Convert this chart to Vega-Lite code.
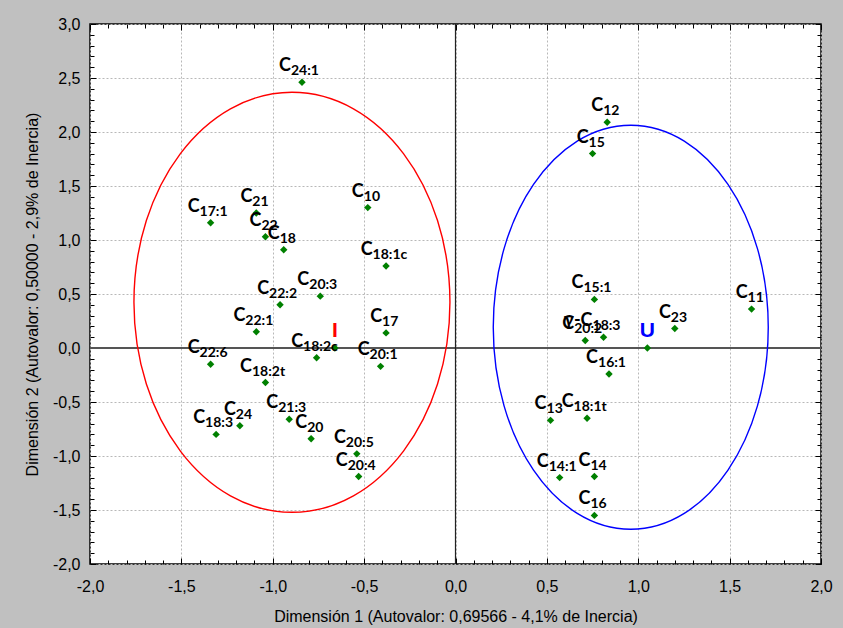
{
  "$schema": "https://vega.github.io/schema/vega-lite/v6.json",
  "width": 731,
  "height": 540,
  "autosize": {"type": "none"},
  "padding": {"left": 90, "top": 24, "right": 22, "bottom": 64},
  "background": "#c0c0c0",
  "config": {"view": {"fill": "white", "stroke": "black", "strokeWidth": 1.5}},
  "datasets": {
    "pts": [
      {"x": -0.84, "y": 2.46, "pre": "C", "sub": "24:1"},
      {"x": -0.48, "y": 1.30, "pre": "C", "sub": "10"},
      {"x": -1.34, "y": 1.16, "pre": "C", "sub": "17:1"},
      {"x": -1.09, "y": 1.25, "pre": "C", "sub": "21"},
      {"x": -1.04, "y": 1.03, "pre": "C", "sub": "22"},
      {"x": -0.94, "y": 0.91, "pre": "C", "sub": "18"},
      {"x": -0.38, "y": 0.76, "pre": "C", "sub": "18:1c"},
      {"x": -0.74, "y": 0.48, "pre": "C", "sub": "20:3"},
      {"x": -0.96, "y": 0.40, "pre": "C", "sub": "22:2"},
      {"x": -1.09, "y": 0.15, "pre": "C", "sub": "22:1"},
      {"x": -0.38, "y": 0.14, "pre": "C", "sub": "17"},
      {"x": -0.76, "y": -0.09, "pre": "C", "sub": "18:2c"},
      {"x": -1.34, "y": -0.15, "pre": "C", "sub": "22:6"},
      {"x": -0.41, "y": -0.17, "pre": "C", "sub": "20:1"},
      {"x": -1.04, "y": -0.32, "pre": "C", "sub": "18:2t"},
      {"x": -0.91, "y": -0.66, "pre": "C", "sub": "21:3"},
      {"x": -1.18, "y": -0.72, "pre": "C", "sub": "24"},
      {"x": -1.31, "y": -0.80, "pre": "C", "sub": "18:3"},
      {"x": -0.79, "y": -0.84, "pre": "C", "sub": "20"},
      {"x": -0.54, "y": -0.98, "pre": "C", "sub": "20:5"},
      {"x": -0.53, "y": -1.19, "pre": "C", "sub": "20:4"},
      {"x": 0.83, "y": 2.09, "pre": "C", "sub": "12"},
      {"x": 0.75, "y": 1.80, "pre": "C", "sub": "15"},
      {"x": 0.76, "y": 0.45, "pre": "C", "sub": "15:1"},
      {"x": 1.62, "y": 0.36, "pre": "C", "sub": "11"},
      {"x": 1.20, "y": 0.18, "pre": "C", "sub": "23"},
      {"x": 0.71, "y": 0.07, "pre": "C", "sub": "20:2"},
      {"x": 0.81, "y": 0.10, "pre": "γ-C", "sub": "18:3"},
      {"x": 0.84, "y": -0.24, "pre": "C", "sub": "16:1"},
      {"x": 0.52, "y": -0.67, "pre": "C", "sub": "13"},
      {"x": 0.72, "y": -0.65, "pre": "C", "sub": "18:1t"},
      {"x": 0.57, "y": -1.20, "pre": "C", "sub": "14:1"},
      {"x": 0.76, "y": -1.19, "pre": "C", "sub": "14"},
      {"x": 0.76, "y": -1.55, "pre": "C", "sub": "16"}
    ],
    "cent": [
      {"x": -0.66, "y": 0.0, "lab": "I"},
      {"x": 1.05, "y": 0.0, "lab": "U"}
    ],
    "ell": [
      {"x": -0.895, "y": 0.423, "g": "I"},
      {"x": 0.959, "y": 0.192, "g": "U"}
    ],
    "zero": [{"v": 0}]
  },
  "layer": [
    {
      "data": {"name": "zero"},
      "mark": {"type": "rule", "color": "#555555", "strokeWidth": 2},
      "encoding": {
        "y": {"field": "v", "type": "quantitative", "scale": {"domain": [-2, 3], "nice": false, "zero": false}, "axis": null}
      }
    },
    {
      "data": {"name": "zero"},
      "mark": {"type": "rule", "color": "#222222", "strokeWidth": 1.2},
      "encoding": {
        "x": {"field": "v", "type": "quantitative", "scale": {"domain": [-2, 2], "nice": false, "zero": false}, "axis": null}
      }
    },
    {
      "data": {"name": "ell"},
      "transform": [{"filter": "datum.g == 'I'"}],
      "mark": {"type": "point", "filled": false, "opacity": 1, "stroke": "#ff0000", "strokeWidth": 1.4, "size": 176400,
        "shape": "M0.7524,0 C0.7524,0.5523 0.4155,1 0,1 C-0.4155,1 -0.7524,0.5523 -0.7524,0 C-0.7524,-0.5523 -0.4155,-1 0,-1 C0.4155,-1 0.7524,-0.5523 0.7524,0 Z"},
      "encoding": {
        "x": {"field": "x", "type": "quantitative", "scale": {"domain": [-2, 2], "nice": false, "zero": false}, "axis": null},
        "y": {"field": "y", "type": "quantitative", "scale": {"domain": [-2, 3], "nice": false, "zero": false}, "axis": null}
      }
    },
    {
      "data": {"name": "ell"},
      "transform": [{"filter": "datum.g == 'U'"}],
      "mark": {"type": "point", "filled": false, "opacity": 1, "stroke": "#0000ff", "strokeWidth": 1.4, "size": 163216,
        "shape": "M0.6807,0 C0.6807,0.5523 0.3759,1 0,1 C-0.3759,1 -0.6807,0.5523 -0.6807,0 C-0.6807,-0.5523 -0.3759,-1 0,-1 C0.3759,-1 0.6807,-0.5523 0.6807,0 Z"},
      "encoding": {
        "x": {"field": "x", "type": "quantitative", "scale": {"domain": [-2, 2], "nice": false, "zero": false}, "axis": null},
        "y": {"field": "y", "type": "quantitative", "scale": {"domain": [-2, 3], "nice": false, "zero": false}, "axis": null}
      }
    },
    {
      "data": {"name": "pts"},
      "mark": {"type": "point", "shape": "diamond", "filled": true, "opacity": 1, "color": "#008000", "size": 55},
      "encoding": {
        "x": {"field": "x", "type": "quantitative", "scale": {"domain": [-2, 2], "nice": false, "zero": false},
          "axis": {
            "orient": "bottom",
            "values": [-2,-1.9,-1.8,-1.7,-1.6,-1.5,-1.4,-1.3,-1.2,-1.1,-1,-0.9,-0.8,-0.7,-0.6,-0.5,-0.4,-0.3,-0.2,-0.1,0,0.1,0.2,0.3,0.4,0.5,0.6,0.7,0.8,0.9,1,1.1,1.2,1.3,1.4,1.5,1.6,1.7,1.8,1.9,2],
            "labelExpr": "abs(datum.value*2-round(datum.value*2))<0.001 ? replace(replace(format(datum.value,'.1f'),'.',','),'\u2212','-') : ''",
            "tickSize": {"condition": {"test": "abs(datum.value*2-round(datum.value*2))<0.001", "value": -6}, "value": -4},
            "tickColor": "black",
            "grid": true,
            "gridOpacity": {"condition": {"test": "abs(datum.value*2-round(datum.value*2))<0.001", "value": 1}, "value": 0},
            "gridDash": [2, 2],
            "gridColor": "#b8b8b8",
            "domain": false,
            "labelFont": "Liberation Sans",
            "labelFontSize": 16,
            "labelColor": "black",
            "labelPadding": 20,
            "labelFlush": false,
            "labelOverlap": false,
            "title": "Dimensión 1 (Autovalor: 0,69566 - 4,1% de Inercia)",
            "titleFont": "Liberation Sans",
            "titleFontSize": 16,
            "titleFontWeight": "normal",
            "titleColor": "black",
            "titlePadding": 12
          }
        },
        "y": {"field": "y", "type": "quantitative", "scale": {"domain": [-2, 3], "nice": false, "zero": false},
          "axis": {
            "orient": "left",
            "values": [-2,-1.9,-1.8,-1.7,-1.6,-1.5,-1.4,-1.3,-1.2,-1.1,-1,-0.9,-0.8,-0.7,-0.6,-0.5,-0.4,-0.3,-0.2,-0.1,0,0.1,0.2,0.3,0.4,0.5,0.6,0.7,0.8,0.9,1,1.1,1.2,1.3,1.4,1.5,1.6,1.7,1.8,1.9,2,2.1,2.2,2.3,2.4,2.5,2.6,2.7,2.8,2.9,3],
            "labelExpr": "abs(datum.value*2-round(datum.value*2))<0.001 ? replace(replace(format(datum.value,'.1f'),'.',','),'\u2212','-') : ''",
            "tickSize": {"condition": {"test": "abs(datum.value*2-round(datum.value*2))<0.001", "value": -6}, "value": -4},
            "tickColor": "black",
            "grid": true,
            "gridOpacity": {"condition": {"test": "abs(datum.value*2-round(datum.value*2))<0.001", "value": 1}, "value": 0},
            "gridDash": [2, 2],
            "gridColor": "#b8b8b8",
            "domain": false,
            "labelFont": "Liberation Sans",
            "labelFontSize": 16,
            "labelColor": "black",
            "labelPadding": 16,
            "labelFlush": false,
            "labelOverlap": false,
            "title": "Dimensión 2 (Autovalor: 0,50000 - 2,9% de Inercia)",
            "titleFont": "Liberation Sans",
            "titleFontSize": 16,
            "titleFontWeight": "normal",
            "titleColor": "black",
            "titlePadding": 12
          }
        }
      }
    },
    {
      "data": {"name": "pts"},
      "mark": {"type": "point", "opacity": 0},
      "encoding": {
        "x": {"field": "x", "type": "quantitative", "scale": {"domain": [-2, 2], "nice": false, "zero": false},
          "axis": {
            "orient": "top",
            "values": [-2,-1.9,-1.8,-1.7,-1.6,-1.5,-1.4,-1.3,-1.2,-1.1,-1,-0.9,-0.8,-0.7,-0.6,-0.5,-0.4,-0.3,-0.2,-0.1,0,0.1,0.2,0.3,0.4,0.5,0.6,0.7,0.8,0.9,1,1.1,1.2,1.3,1.4,1.5,1.6,1.7,1.8,1.9,2],
            "labels": false, "grid": false, "domain": false, "title": null,
            "tickColor": "black",
            "tickSize": {"condition": {"test": "abs(datum.value*2-round(datum.value*2))<0.001", "value": -6}, "value": -4}
          }
        },
        "y": {"field": "y", "type": "quantitative", "scale": {"domain": [-2, 3], "nice": false, "zero": false},
          "axis": {
            "orient": "right",
            "values": [-2,-1.9,-1.8,-1.7,-1.6,-1.5,-1.4,-1.3,-1.2,-1.1,-1,-0.9,-0.8,-0.7,-0.6,-0.5,-0.4,-0.3,-0.2,-0.1,0,0.1,0.2,0.3,0.4,0.5,0.6,0.7,0.8,0.9,1,1.1,1.2,1.3,1.4,1.5,1.6,1.7,1.8,1.9,2,2.1,2.2,2.3,2.4,2.5,2.6,2.7,2.8,2.9,3],
            "labels": false, "grid": false, "domain": false, "title": null,
            "tickColor": "black",
            "tickSize": {"condition": {"test": "abs(datum.value*2-round(datum.value*2))<0.001", "value": -6}, "value": -4}
          }
        }
      }
    },
    {
      "data": {"name": "cent"},
      "mark": {"type": "point", "shape": "diamond", "filled": true, "opacity": 1, "color": "#008000", "size": 55},
      "encoding": {
        "x": {"field": "x", "type": "quantitative", "scale": {"domain": [-2, 2], "nice": false, "zero": false}, "axis": null},
        "y": {"field": "y", "type": "quantitative", "scale": {"domain": [-2, 3], "nice": false, "zero": false}, "axis": null}
      }
    },
    {
      "data": {"name": "cent"},
      "mark": {"type": "text", "align": "center", "baseline": "alphabetic", "dy": -11, "font": "Liberation Sans", "fontSize": 21, "fontWeight": "bold"},
      "encoding": {
        "x": {"field": "x", "type": "quantitative", "scale": {"domain": [-2, 2], "nice": false, "zero": false}, "axis": null},
        "y": {"field": "y", "type": "quantitative", "scale": {"domain": [-2, 3], "nice": false, "zero": false}, "axis": null},
        "text": {"field": "lab"},
        "color": {"field": "lab", "type": "nominal", "scale": {"domain": ["I", "U"], "range": ["#ff0000", "#0000ff"]}, "legend": null}
      }
    },
    {
      "data": {"name": "pts"},
      "transform": [{"filter": "length(datum.sub) == 2"}],
      "mark": {"type": "text", "align": "right", "baseline": "alphabetic", "dx": -4, "dy": -11, "font": "Lato", "fontSize": 18, "fontWeight": "bold", "color": "black"},
      "encoding": {
        "x": {"field": "x", "type": "quantitative", "scale": {"domain": [-2, 2], "nice": false, "zero": false}, "axis": null},
        "y": {"field": "y", "type": "quantitative", "scale": {"domain": [-2, 3], "nice": false, "zero": false}, "axis": null},
        "text": {"field": "pre"}
      }
    },
    {
      "data": {"name": "pts"},
      "transform": [{"filter": "length(datum.sub) == 2"}],
      "mark": {"type": "text", "align": "left", "baseline": "alphabetic", "dx": -4, "dy": -7, "font": "Lato", "fontSize": 14, "fontWeight": "bold", "color": "black"},
      "encoding": {
        "x": {"field": "x", "type": "quantitative", "scale": {"domain": [-2, 2], "nice": false, "zero": false}, "axis": null},
        "y": {"field": "y", "type": "quantitative", "scale": {"domain": [-2, 3], "nice": false, "zero": false}, "axis": null},
        "text": {"field": "sub"}
      }
    },
    {
      "data": {"name": "pts"},
      "transform": [{"filter": "length(datum.sub) == 4"}],
      "mark": {"type": "text", "align": "right", "baseline": "alphabetic", "dx": -11, "dy": -11, "font": "Lato", "fontSize": 18, "fontWeight": "bold", "color": "black"},
      "encoding": {
        "x": {"field": "x", "type": "quantitative", "scale": {"domain": [-2, 2], "nice": false, "zero": false}, "axis": null},
        "y": {"field": "y", "type": "quantitative", "scale": {"domain": [-2, 3], "nice": false, "zero": false}, "axis": null},
        "text": {"field": "pre"}
      }
    },
    {
      "data": {"name": "pts"},
      "transform": [{"filter": "length(datum.sub) == 4"}],
      "mark": {"type": "text", "align": "left", "baseline": "alphabetic", "dx": -11, "dy": -7, "font": "Lato", "fontSize": 14, "fontWeight": "bold", "color": "black"},
      "encoding": {
        "x": {"field": "x", "type": "quantitative", "scale": {"domain": [-2, 2], "nice": false, "zero": false}, "axis": null},
        "y": {"field": "y", "type": "quantitative", "scale": {"domain": [-2, 3], "nice": false, "zero": false}, "axis": null},
        "text": {"field": "sub"}
      }
    },
    {
      "data": {"name": "pts"},
      "transform": [{"filter": "length(datum.sub) == 5"}],
      "mark": {"type": "text", "align": "right", "baseline": "alphabetic", "dx": -13.5, "dy": -11, "font": "Lato", "fontSize": 18, "fontWeight": "bold", "color": "black"},
      "encoding": {
        "x": {"field": "x", "type": "quantitative", "scale": {"domain": [-2, 2], "nice": false, "zero": false}, "axis": null},
        "y": {"field": "y", "type": "quantitative", "scale": {"domain": [-2, 3], "nice": false, "zero": false}, "axis": null},
        "text": {"field": "pre"}
      }
    },
    {
      "data": {"name": "pts"},
      "transform": [{"filter": "length(datum.sub) == 5"}],
      "mark": {"type": "text", "align": "left", "baseline": "alphabetic", "dx": -13.5, "dy": -7, "font": "Lato", "fontSize": 14, "fontWeight": "bold", "color": "black"},
      "encoding": {
        "x": {"field": "x", "type": "quantitative", "scale": {"domain": [-2, 2], "nice": false, "zero": false}, "axis": null},
        "y": {"field": "y", "type": "quantitative", "scale": {"domain": [-2, 3], "nice": false, "zero": false}, "axis": null},
        "text": {"field": "sub"}
      }
    }
  ],
  "resolve": {"axis": {"x": "independent", "y": "independent"}}
}
